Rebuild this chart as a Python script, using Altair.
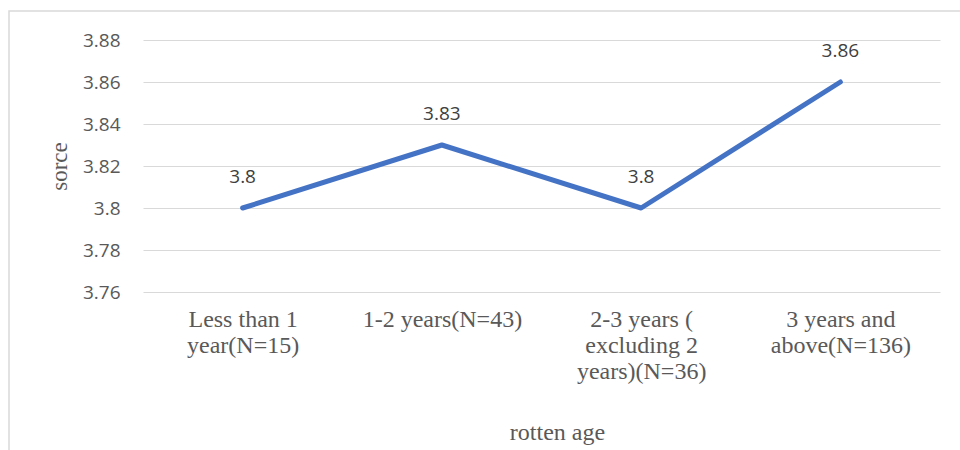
import altair as alt
import pandas as pd

# Mean score by "rotten age" group
categories = [
    "Less than 1\nyear(N=15)",
    "1-2 years(N=43)",
    "2-3 years (\nexcluding 2\nyears)(N=36)",
    "3 years and\nabove(N=136)",
]
scores = [3.80, 3.83, 3.80, 3.86]
score_labels = ["3.8", "3.83", "3.8", "3.86"]
y_ticks = [3.76, 3.78, 3.80, 3.82, 3.84, 3.86, 3.88]

df = pd.DataFrame({"group": categories, "score": scores, "label": score_labels})

x_enc = alt.X(
    "group:N",
    sort=categories,
    scale=alt.Scale(paddingInner=0, paddingOuter=0),
    axis=alt.Axis(
        title="rotten age",
        labelAngle=0,
        labelExpr="split(datum.label, '\\n')",
        labelFont="Liberation Serif",
        labelFontSize=24,
        labelColor="#595959",
        labelLineHeight=26,
        labelPadding=15,
        labelBaseline="top",
        titleFont="Liberation Serif",
        titleFontSize=24,
        titleFontWeight="normal",
        titleColor="#595959",
        titleBaseline="middle",
        titleY=140,
        titleX=414,
        domain=False,
        ticks=False,
        grid=False,
    ),
)

y_enc = alt.Y(
    "score:Q",
    scale=alt.Scale(domain=[3.76, 3.88], nice=False, zero=False),
    axis=alt.Axis(
        title="sorce",
        values=y_ticks,
        labelExpr="format(datum.value, '.2~f')",
        labelFont="Open Sans",
        labelFontSize=19,
        labelColor="#595959",
        labelPadding=23,
        titleFont="Liberation Serif",
        titleFontSize=23,
        titleFontWeight="normal",
        titleColor="#595959",
        titleBaseline="middle",
        titleX=-84,
        domain=False,
        ticks=False,
        gridColor="#d9d9d9",
        gridWidth=1.2,
    ),
)

base = alt.Chart(df)

line = base.mark_line(color="#4472C4", strokeWidth=5, strokeCap="round", strokeJoin="round").encode(
    x=x_enc, y=y_enc
)

labels = base.mark_text(
    font="Open Sans", fontSize=19, color="#404040", baseline="bottom", dy=-21
).encode(x=alt.X("group:N", sort=categories), y="score:Q", text="label:N")

# outer chart frame
frame = (
    alt.Chart(pd.DataFrame({"k": [0]}))
    .mark_rect(fill=None, stroke="#d9d9d9", strokeWidth=1.5, clip=False)
    .encode(x=alt.value(-134), x2=alt.value(900), y=alt.value(-29), y2=alt.value(500))
)

chart = (
    alt.layer(frame, line, labels)
    .properties(
        width=797,
        height=252,
        padding={"left": 143, "top": 40, "right": 20, "bottom": 158},
        autosize=alt.AutoSizeParams(type="none"),
    )
    .configure_view(stroke=None)
)

chart.save("out.html", embed_options={"renderer": "svg", "actions": False})
